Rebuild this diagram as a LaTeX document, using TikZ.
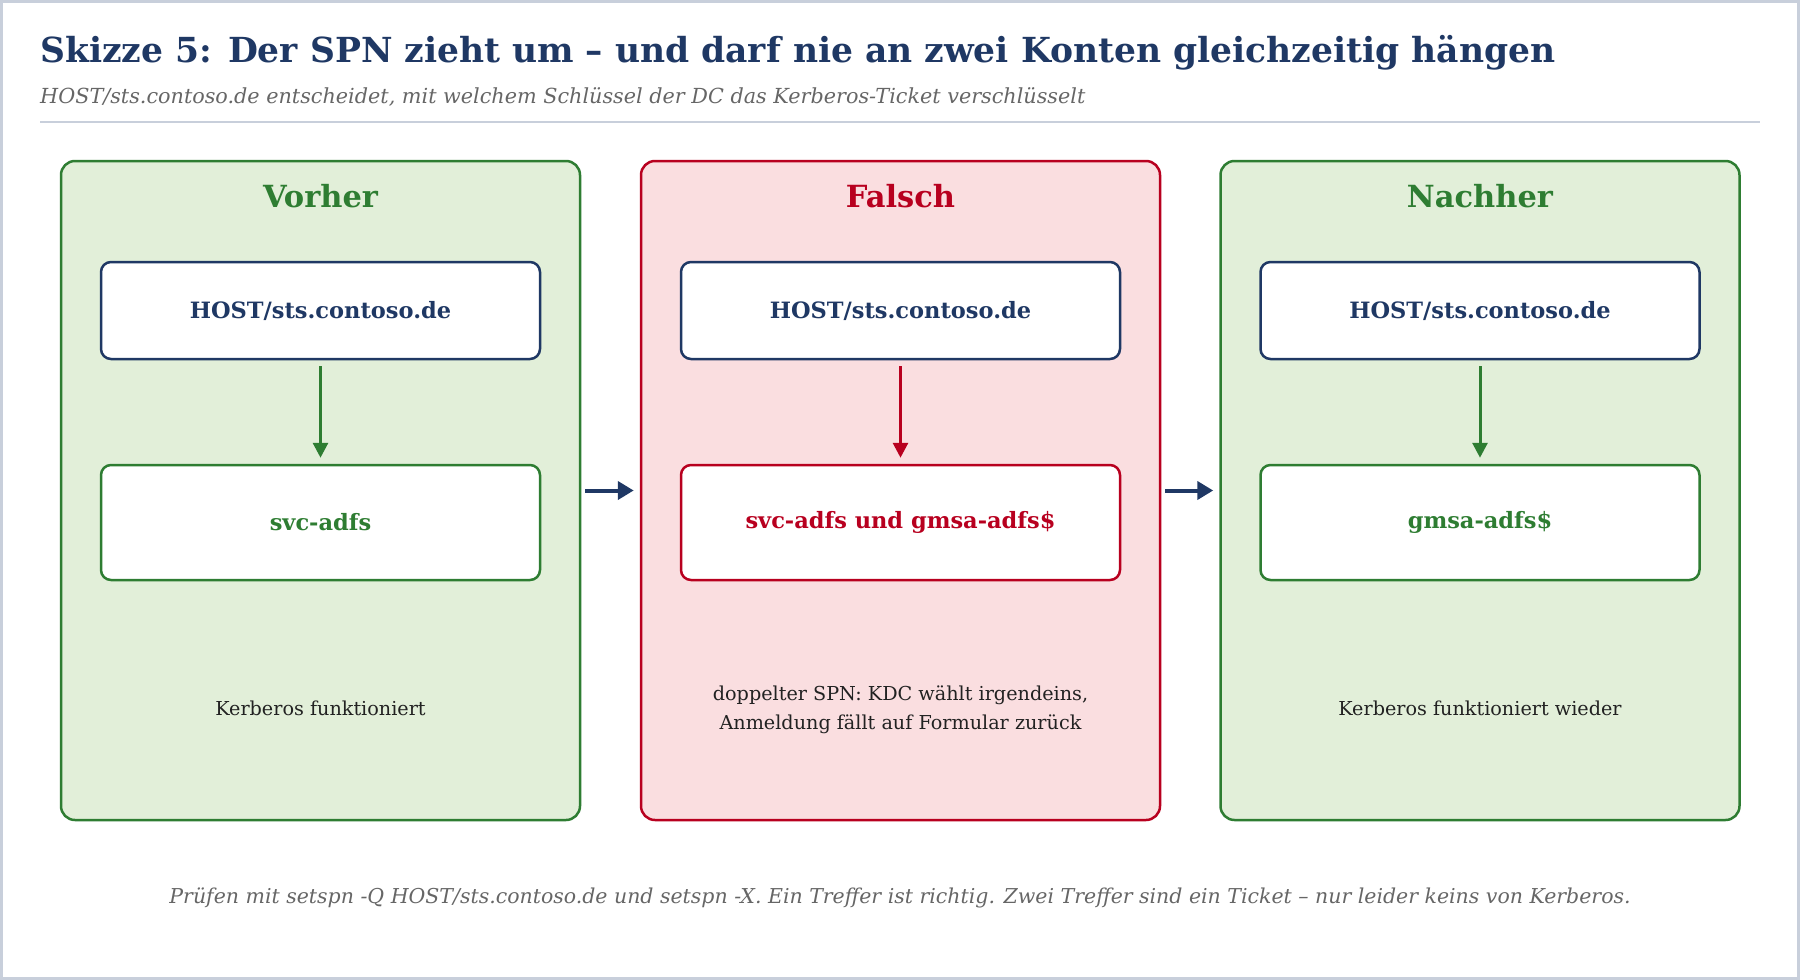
\documentclass[tikz,border=0pt]{standalone}
\usepackage{fontspec}
\setmainfont{DejaVu Serif}
\usetikzlibrary{arrows.meta}
\definecolor{navy}{HTML}{1F3864}
\definecolor{grn}{HTML}{2E7D32}
\definecolor{grnfill}{HTML}{E2EFD9}
\definecolor{rd}{HTML}{B8001F}
\definecolor{rdfill}{HTML}{FADEE0}
\definecolor{framec}{HTML}{C8CFDB}
\definecolor{subgray}{HTML}{666666}
\definecolor{bodyc}{HTML}{222222}
\tikzset{
  panelbox/.style={draw, line width=2.5pt, rounded corners=14pt, minimum width=519pt, minimum height=659pt, inner sep=0pt},
  hostbox/.style={draw=navy, fill=white, line width=2.5pt, rounded corners=10pt, minimum width=439pt, minimum height=97pt, inner sep=0pt,
     text=navy, font=\fontsize{22.5}{27}\selectfont\bfseries},
  acctbox/.style={draw, fill=white, line width=2.5pt, rounded corners=10pt, minimum width=439pt, minimum height=115pt, inner sep=0pt,
     font=\fontsize{22.5}{27}\selectfont\bfseries},
  ptitle/.style={inner sep=0pt, font=\fontsize{30.5}{36}\selectfont\bfseries},
  bodytxt/.style={inner sep=0pt, text=bodyc, align=center, font=\fontsize{19.2}{29}\selectfont},
  downarrow/.style={line width=3pt, -{Triangle[length=15pt,width=15pt]}, shorten <=6pt, shorten >=6pt},
  sidearrow/.style={draw=navy, line width=4pt, -{Triangle[length=16pt,width=18pt]}, shorten <=4pt, shorten >=6pt}
}
\begin{document}
\begin{tikzpicture}[x=1pt,y=-1pt]
\useasboundingbox (0,0) rectangle (1800,980);
\draw[framec, line width=3pt] (1.5,1.5) rectangle (1798.5,978.5);
% title
\node[anchor=west, inner sep=0pt, text=navy] (title) at (40,52.5) {\resizebox{1515pt}{!}{\bfseries Skizze 5: Der SPN zieht um – und darf nie an zwei Konten gleichzeitig hängen}};
\node[anchor=west, inner sep=0pt, text=subgray] (subtitle) at (40,97) {\resizebox{1045pt}{!}{\itshape HOST/sts.contoso.de entscheidet, mit welchem Schlüssel der DC das Kerberos-Ticket verschlüsselt}};
\draw[framec, line width=2pt] (40,122) -- (1760,122);
% panels
\node[panelbox, draw=grn, fill=grnfill] (p1) at (320.5,490.5) {};
\node[panelbox, draw=rd, fill=rdfill] (p2) at (900.5,490.5) {};
\node[panelbox, draw=grn, fill=grnfill] (p3) at (1480,490.5) {};
% panel titles
\node[ptitle, text=grn] (t1) at (320.5,196) {Vorher};
\node[ptitle, text=rd] (t2) at (900.5,196) {Falsch};
\node[ptitle, text=grn] (t3) at (1480,196) {Nachher};
% host boxes
\node[hostbox] (h1) at (320.5,310.5) {HOST/sts.contoso.de};
\node[hostbox] (h2) at (900.5,310.5) {HOST/sts.contoso.de};
\node[hostbox] (h3) at (1480,310.5) {HOST/sts.contoso.de};
% account boxes
\node[acctbox, draw=grn, text=grn] (a1) at (320.5,522.5) {svc-adfs};
\node[acctbox, draw=rd, text=rd] (a2) at (900.5,522.5) {svc-adfs und gmsa-adfs\$};
\node[acctbox, draw=grn, text=grn] (a3) at (1480,522.5) {gmsa-adfs\$};
% inner arrows
\draw[downarrow, grn] (h1) -- (a1);
\draw[downarrow, rd] (h2) -- (a2);
\draw[downarrow, grn] (h3) -- (a3);
% body texts
\node[bodytxt] (b1) at (320.5,708) {Kerberos funktioniert};
\node[bodytxt] (b2) at (900.5,709.5) {doppelter SPN: KDC wählt irgendeins,\\Anmeldung fällt auf Formular zurück};
\node[bodytxt] (b3) at (1480,708) {Kerberos funktioniert wieder};
% side arrows
\draw[sidearrow] (p1.east) -- (p2.west);
\draw[sidearrow] (p2.east) -- (p3.west);
% footer
\node[inner sep=0pt, text=subgray] (footer) at (900,898) {\resizebox{1461pt}{!}{\itshape Prüfen mit setspn -Q HOST/sts.contoso.de und setspn -X. Ein Treffer ist richtig. Zwei Treffer sind ein Ticket – nur leider keins von Kerberos.}};
\end{tikzpicture}
\end{document}
